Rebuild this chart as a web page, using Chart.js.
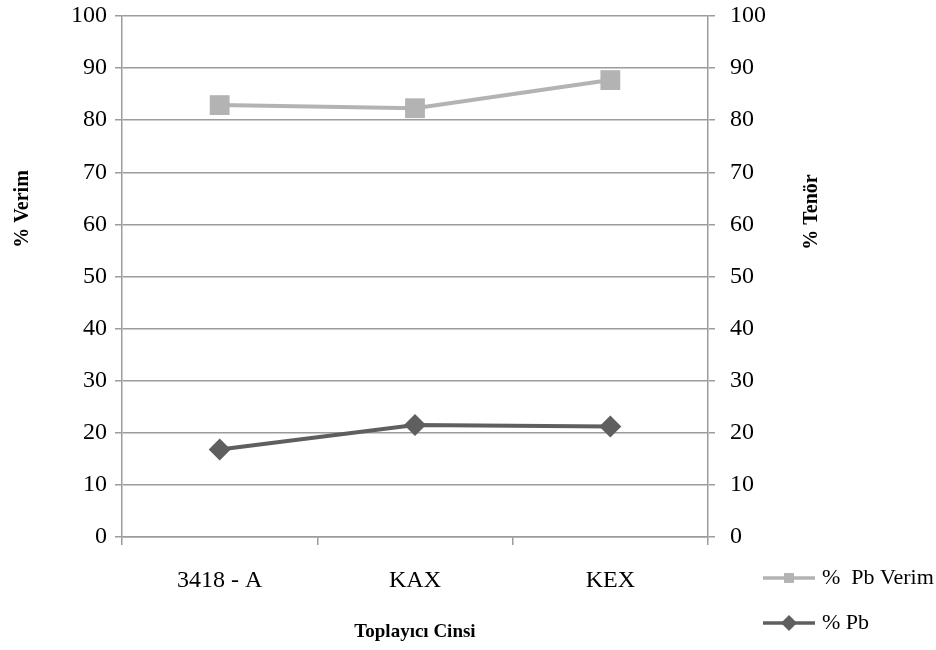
<!DOCTYPE html>
<html>
<head>
<meta charset="utf-8">
<script src="https://cdn.jsdelivr.net/npm/chart.js@4.4.0/dist/chart.umd.min.js"></script>
<style>
  html, body { margin: 0; padding: 0; background: #ffffff; }
  #wrap { width: 936px; height: 650px; }
</style>
</head>
<body>
<div id="wrap"><canvas id="chart" width="936" height="650"></canvas></div>
<script>
// Collector type vs. Pb recovery and Pb grade
const categories = ['3418 - A', 'KAX', 'KEX'];
const pbVerim = [82.9, 82.3, 87.7];
const pbTenor = [16.8, 21.5, 21.2];
const seriesNames = ['%  Pb Verim', '% Pb'];
const axisTicks = [0, 10, 20, 30, 40, 50, 60, 70, 80, 90, 100];
const xTitle = 'Toplayıcı Cinsi';
const leftTitle = '% Verim';
const rightTitle = '% Tenör';

const SERIF = '"Liberation Serif", "Times New Roman", serif';
const GRID = '#9c9c9c';

// Vertical / bottom axis titles and the legend below the right axis
const annotations = {
  id: 'annotations',
  afterDraw(chart) {
    const ctx = chart.ctx;
    const area = chart.chartArea;
    ctx.save();
    ctx.fillStyle = '#000';
    ctx.textAlign = 'center';
    ctx.textBaseline = 'middle';
    ctx.font = 'bold 20px ' + SERIF;
    // left title
    ctx.save();
    ctx.translate(23, 209);
    ctx.rotate(-Math.PI / 2);
    ctx.fillText(leftTitle, 0, 0);
    ctx.restore();
    // right title
    ctx.save();
    ctx.translate(812, 212);
    ctx.rotate(-Math.PI / 2);
    ctx.fillText(rightTitle, 0, 0);
    ctx.restore();
    // bottom title
    ctx.font = 'bold 19px ' + SERIF;
    ctx.fillText(xTitle, (area.left + area.right) / 2, 632);

    // legend
    const rows = [578, 623];
    const markerRadius = [7, 8];
    chart.data.datasets.forEach((ds, i) => {
      const y = rows[i];
      ctx.strokeStyle = ds.borderColor;
      ctx.lineWidth = 3.5;
      ctx.beginPath();
      ctx.moveTo(763, y);
      ctx.lineTo(815, y);
      ctx.stroke();
      ctx.fillStyle = ds.pointBackgroundColor;
      Chart.helpers.drawPoint(ctx, { pointStyle: ds.pointStyle, radius: markerRadius[i], rotation: 0, borderWidth: 0 }, 789, y);
      ctx.fillStyle = '#000';
      ctx.font = '22px ' + SERIF;
      ctx.textAlign = 'left';
      ctx.fillText(ds.label, 822, y);
    });
    ctx.restore();
  }
};

// fixed axis box sizes, without extra room for overhanging tick labels
function fixBox(size) {
  return function (s) {
    if (s.isHorizontal()) { s.height = size; } else { s.width = size; }
    s.paddingTop = 0; s.paddingBottom = 0; s.paddingLeft = 0; s.paddingRight = 0;
  };
}

new Chart(document.getElementById('chart'), {
  type: 'line',
  data: {
    labels: categories,
    datasets: [
      {
        label: seriesNames[0],
        data: pbVerim,
        yAxisID: 'y',
        borderColor: '#b3b3b3',
        backgroundColor: '#b3b3b3',
        pointBackgroundColor: '#b3b3b3',
        pointBorderWidth: 0,
        borderWidth: 4,
        pointStyle: 'rect',
        pointRadius: 14,
        tension: 0
      },
      {
        label: seriesNames[1],
        data: pbTenor,
        yAxisID: 'y1',
        borderColor: '#5f5f5f',
        backgroundColor: '#5f5f5f',
        pointBackgroundColor: '#5f5f5f',
        pointBorderWidth: 0,
        borderWidth: 4,
        pointStyle: 'rectRot',
        pointRadius: 11,
        tension: 0
      }
    ]
  },
  options: {
    responsive: false,
    animation: false,
    devicePixelRatio: 1,
    layout: { padding: { top: 16, left: 0, right: 0, bottom: 0 } },
    plugins: {
      legend: { display: false },
      tooltip: { enabled: false }
    },
    scales: {
      x: {
        type: 'category',
        offset: true,
        afterFit: fixBox(113),
        grid: { display: true, offset: true, drawOnChartArea: false, drawTicks: true, tickLength: 8, color: GRID, lineWidth: 1.5 },
        border: { display: true, color: GRID, width: 1.5 },
        ticks: { color: '#000', font: { family: SERIF, size: 24 }, padding: 21, maxRotation: 0 }
      },
      y: {
        position: 'left',
        min: 0, max: 100,
        afterFit: fixBox(122),
        afterBuildTicks(s) { s.ticks = axisTicks.map(v => ({ value: v })); },
        grid: { color: GRID, lineWidth: 1.5, tickLength: 7, drawTicks: true },
        border: { display: true, color: GRID, width: 1.5 },
        ticks: { color: '#000', font: { family: SERIF, size: 24 }, padding: 8 }
      },
      y1: {
        position: 'right',
        min: 0, max: 100,
        afterFit: fixBox(228),
        afterBuildTicks(s) { s.ticks = axisTicks.map(v => ({ value: v })); },
        grid: { drawOnChartArea: false, color: GRID, lineWidth: 1.5, tickLength: 7, drawTicks: true },
        border: { display: true, color: GRID, width: 1.5 },
        ticks: { color: '#000', font: { family: SERIF, size: 24 }, padding: 15 }
      }
    }
  },
  plugins: [annotations]
});
</script>
</body>
</html>
